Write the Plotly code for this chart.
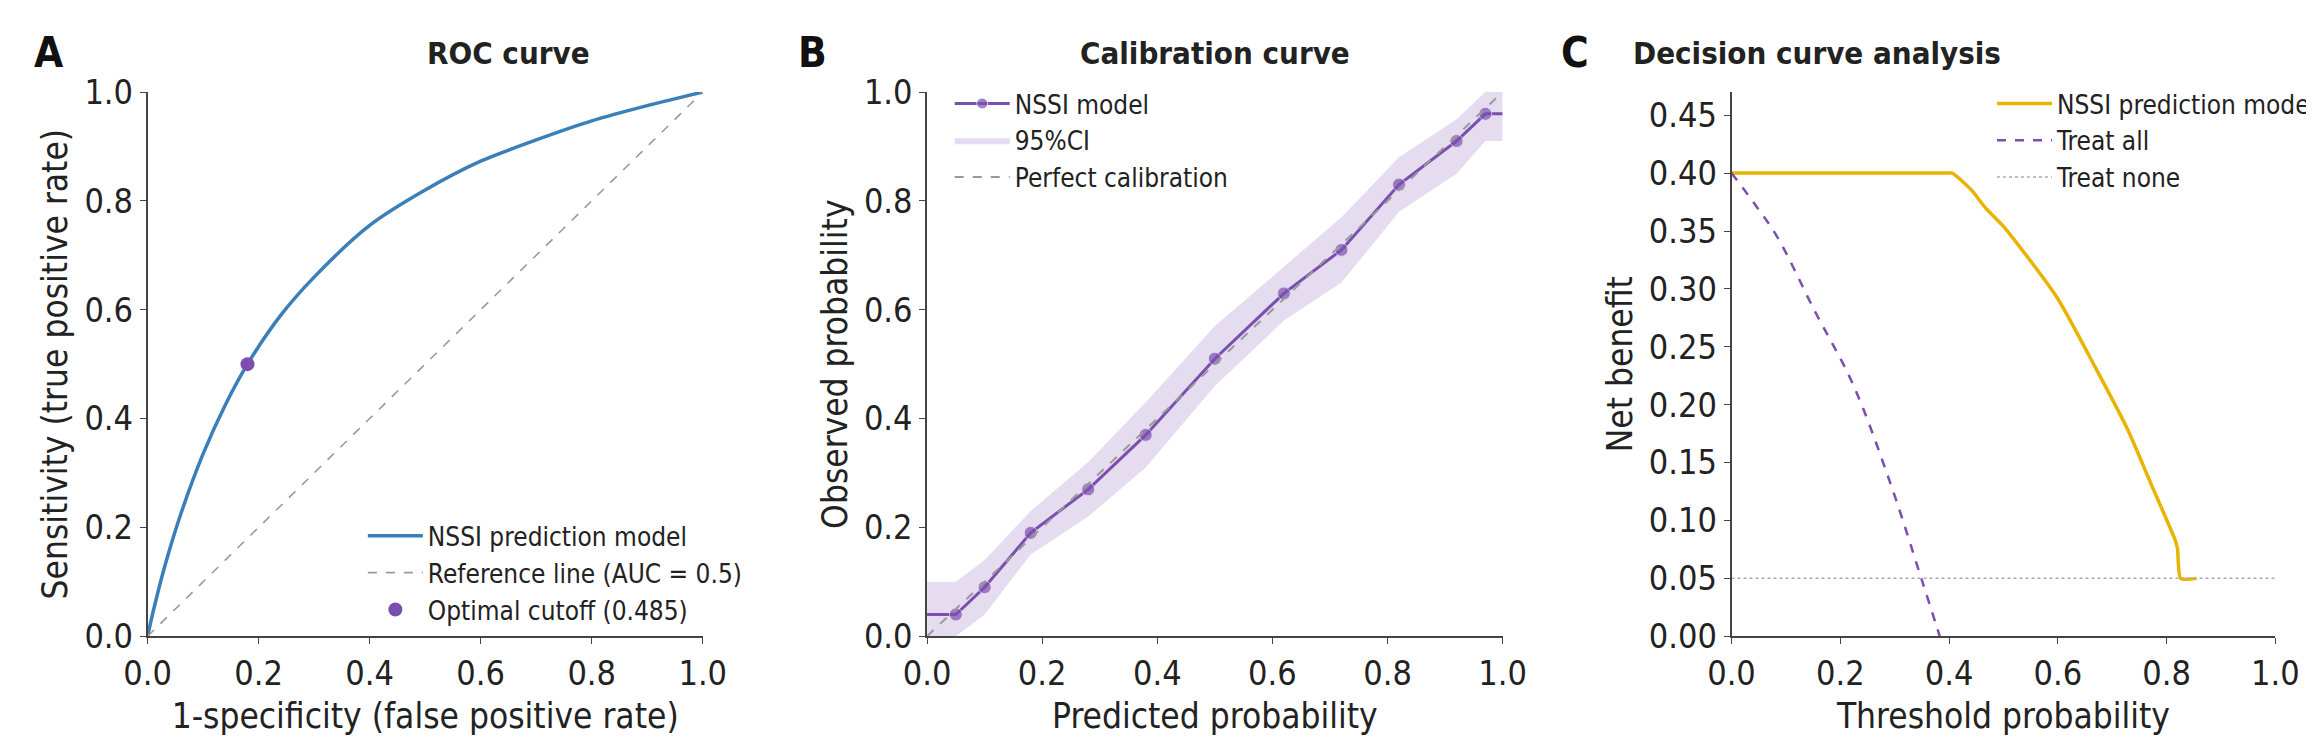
import plotly.graph_objects as go

# ROC
roc_fpr = [0.0, 0.01, 0.03, 0.06, 0.1, 0.14, 0.18, 0.24, 0.3, 0.4, 0.5, 0.6, 0.7, 0.8, 0.9, 1.0]
roc_tpr = [0.0, 0.045, 0.125, 0.225, 0.335, 0.425, 0.50, 0.59, 0.66, 0.755, 0.82, 0.873, 0.912, 0.947, 0.975, 1.0]
cut_x = [0.18]; cut_y = [0.50]
# Calibration
cal_x = [0.05, 0.10, 0.18, 0.28, 0.38, 0.50, 0.62, 0.72, 0.82, 0.92, 0.97]
cal_y = [0.04, 0.09, 0.19, 0.27, 0.37, 0.51, 0.63, 0.71, 0.83, 0.91, 0.96]
line_x = [0.0] + cal_x + [1.0]
line_y = [0.04] + cal_y + [0.96]
ci_x = [0.0, 0.05, 0.10, 0.18, 0.28, 0.38, 0.50, 0.62, 0.72, 0.82, 0.92, 0.97, 1.0]
ci_lo = [0.0, 0.0, 0.04, 0.15, 0.22, 0.31, 0.46, 0.58, 0.65, 0.78, 0.85, 0.91, 0.91]
ci_hi = [0.10, 0.10, 0.14, 0.23, 0.32, 0.43, 0.57, 0.68, 0.77, 0.88, 0.95, 1.0, 1.0]
# DCA
dca_t = [0.0, 0.2, 0.4, 0.406, 0.44, 0.467, 0.502, 0.598, 0.667, 0.728, 0.772, 0.815, 0.82, 0.826, 0.855]
dca_nb = [0.40, 0.40, 0.40, 0.40, 0.386, 0.37, 0.353, 0.293, 0.234, 0.179, 0.131, 0.084, 0.076, 0.05, 0.05]
all_t = [0.0, 0.04, 0.084, 0.153, 0.223, 0.293, 0.349, 0.383]
all_nb = [0.40, 0.375, 0.345, 0.281, 0.218, 0.131, 0.05, 0.0]
none_t = [0.0, 1.0]; none_nb = [0.05, 0.05]

FONT = "DejaVu Sans Condensed, DejaVu Sans"
fig = go.Figure()
fig.add_trace(go.Scatter(x=roc_fpr, y=roc_tpr, mode="lines", line=dict(color="#3a7fb8", width=3.5, shape="spline", smoothing=0.8),
                         name="NSSI prediction model", legend="legend"))
fig.add_trace(go.Scatter(x=[0, 1], y=[0, 1], mode="lines", line=dict(color="#999999", width=1.6, dash="dash"),
                         name="Reference line (AUC = 0.5)", legend="legend"))
fig.add_trace(go.Scatter(x=cut_x, y=cut_y, mode="markers", marker=dict(color="#7b4fb0", size=14),
                         name="Optimal cutoff (0.485)", legend="legend"))

msize = [0] + [13] * len(cal_x) + [0]
fig.add_trace(go.Scatter(x=line_x, y=line_y, mode="lines+markers", line=dict(color="#7b4fb0", width=3),
                         marker=dict(size=msize, color="#7b4fb0"), name="NSSI model", xaxis="x2", yaxis="y2", legend="legend2"))
fig.add_trace(go.Scatter(x=ci_x, y=ci_lo, mode="lines", line=dict(width=0, color="rgba(0,0,0,0)"), showlegend=False,
                         xaxis="x2", yaxis="y2", hoverinfo="skip"))
fig.add_trace(go.Scatter(x=ci_x, y=ci_hi, mode="lines", line=dict(width=0, color="rgba(0,0,0,0)"), fill="tonexty",
                         fillcolor="rgba(123,79,176,0.2)", name="95%CI", xaxis="x2", yaxis="y2", legend="legend2"))
fig.add_trace(go.Scatter(x=[0, 1], y=[0, 1], mode="lines", line=dict(color="#999999", width=2, dash="dash"),
                         name="Perfect calibration", xaxis="x2", yaxis="y2", legend="legend2"))

fig.add_trace(go.Scatter(x=dca_t, y=dca_nb, mode="lines", line=dict(color="#e8b400", width=3.5, shape="spline", smoothing=0.6),
                         name="NSSI prediction model", xaxis="x3", yaxis="y3", legend="legend3"))
fig.add_trace(go.Scatter(x=all_t, y=all_nb, mode="lines", line=dict(color="#7b4fb0", width=2.5, dash="dash", shape="spline"),
                         name="Treat all", xaxis="x3", yaxis="y3", legend="legend3"))
fig.add_trace(go.Scatter(x=none_t, y=none_nb, mode="lines", line=dict(color="#aaaaaa", width=1.5, dash="dot"),
                         name="Treat none", xaxis="x3", yaxis="y3", legend="legend3"))

ax = dict(showgrid=False, zeroline=False, showline=True, linecolor="#444", linewidth=1.5, ticks="outside",
          ticklen=6, tickcolor="#444", tickfont=dict(size=34, family=FONT, color="#222"),
          title_font=dict(size=35, family=FONT, color="#222"))
yd = [0.136, 0.909]
lg = dict(xanchor="left", yanchor="top", font=dict(size=26, family=FONT), bgcolor="rgba(255,255,255,0)",
          itemwidth=55, traceorder="normal")
fig.update_layout(
    width=2314, height=744, plot_bgcolor="white", paper_bgcolor="white",
    margin=dict(l=0, r=0, t=0, b=0), font=dict(family=FONT, color="#222"),
    xaxis=dict(ax, domain=[0.051, 0.296], range=[0, 1], dtick=0.2, tickformat=".1f", title_text="1-specificity (false positive rate)", title_standoff=12),
    yaxis=dict(ax, domain=yd, range=[0, 1], dtick=0.2, tickformat=".1f", title_text="Sensitivity (true positive rate)", title_standoff=6),
    xaxis2=dict(ax, domain=[0.395, 0.649], range=[0, 1], dtick=0.2, tickformat=".1f", title_text="Predicted probability", anchor="y2", title_standoff=12),
    yaxis2=dict(ax, domain=yd, range=[0, 1], dtick=0.2, tickformat=".1f", title_text="Observed probability", anchor="x2", title_standoff=6),
    xaxis3=dict(ax, domain=[0.750, 0.990], range=[0, 1], dtick=0.2, tickformat=".1f", title_text="Threshold probability", anchor="y3", title_standoff=12),
    yaxis3=dict(ax, domain=yd, range=[0, 0.47], dtick=0.05, tickformat=".2f", title_text="Net benefit", anchor="x3", title_standoff=6),
    legend=dict(lg, x=0.146, y=(744-512)/744),
    legend2=dict(lg, x=0.405, y=(744-55)/744, tracegroupgap=0),
    legend3=dict(lg, x=0.865, y=(744-55)/744),
)
ann = [
    dict(text="<b>ROC curve</b>", x=0.1735, y=0.965),
    dict(text="<b>Calibration curve</b>", x=0.522, y=0.965),
    dict(text="<b>Decision curve analysis</b>", x=0.87, y=0.965),
]
for a in ann:
    fig.add_annotation(xref="paper", yref="paper", showarrow=False, font=dict(size=31, family=FONT, color="#222"), yanchor="middle", **a)
for t, x in [("A", 0.0), ("B", 0.337), ("C", 0.674)]:
    fig.add_annotation(text=f"<b>{t}</b>", xref="paper", yref="paper", x=x, y=0.965, xanchor="left", yanchor="middle",
                       showarrow=False, font=dict(size=42, family=FONT, color="#111"))
fig.write_html("out.html")
